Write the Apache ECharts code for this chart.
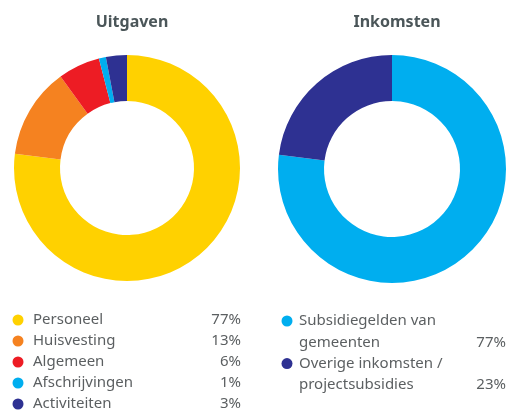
<!DOCTYPE html>
<html>
<head>
<meta charset="utf-8">
<script src="https://cdn.jsdelivr.net/npm/echarts@6/dist/echarts.min.js"></script>
<style>
  html, body { margin: 0; padding: 0; background: #fff; }
  #chart { width: 509px; height: 412px; }
</style>
</head>
<body>
<div id="chart"></div>
<script>
// uitgaven (expenses)
const expenseNames = ["Personeel", "Huisvesting", "Algemeen", "Afschrijvingen", "Activiteiten"];
const expenseValues = [77, 13, 6, 1, 3];
const expenseColors = ["#FFD100", "#F58220", "#ED1C24", "#00AEEF", "#2E3192"];

// inkomsten (income)
const incomeNames = ["Subsidiegelden van gemeenten", "Overige inkomsten / projectsubsidies"];
const incomeLabels = [["Subsidiegelden van", "gemeenten"], ["Overige inkomsten /", "projectsubsidies"]];
const incomeValues = [77, 23];
const incomeColors = ["#00AEEF", "#2E3192"];

const textColor = "#5b5f61";
const fontFamily = "'Noto Sans', sans-serif";

const chart = echarts.init(document.getElementById("chart"));

// legend drawn as graphic elements
function legendBlock(x0, textX, rightX, y0, rowH, items) {
  const els = [];
  let y = y0;
  items.forEach((it) => {
    els.push({
      type: "circle",
      shape: { cx: x0, cy: y, r: 5.5 },
      style: { fill: it.color },
    });
    it.lines.forEach((line, i) => {
      els.push({
        type: "text",
        x: textX,
        y: y + i * rowH,
        style: {
          text: line,
          fill: textColor,
          font: "15px " + fontFamily,
          textVerticalAlign: "middle",
        },
      });
    });
    const lastY = y + (it.lines.length - 1) * rowH;
    els.push({
      type: "text",
      x: rightX,
      y: lastY,
      style: {
        text: it.value + "%",
        fill: textColor,
        font: "15px " + fontFamily,
        textAlign: "right",
        textVerticalAlign: "middle",
      },
    });
    y += it.lines.length * rowH;
  });
  return els;
}

const leftItems = expenseNames.map((n, i) => ({ lines: [n], value: expenseValues[i], color: expenseColors[i] }));
const rightItems = incomeNames.map((n, i) => ({ lines: incomeLabels[i], value: incomeValues[i], color: incomeColors[i] }));

chart.setOption({
  animation: false,
  title: [
    {
      text: "Uitgaven",
      left: 127,
      top: 9,
      textAlign: "center",
      textStyle: { fontFamily: fontFamily, fontSize: 16, fontWeight: "bold", color: "#4b5659" },
    },
    {
      text: "Inkomsten",
      left: 392,
      top: 9,
      textAlign: "center",
      textStyle: { fontFamily: fontFamily, fontSize: 16, fontWeight: "bold", color: "#4b5659" },
    },
  ],
  series: [
    {
      type: "pie",
      center: [127, 168],
      radius: [67, 113],
      startAngle: 90,
      label: { show: false },
      labelLine: { show: false },
      silent: true,
      data: expenseNames.map((n, i) => ({ name: n, value: expenseValues[i], itemStyle: { color: expenseColors[i] } })),
    },
    {
      type: "pie",
      center: [392, 169],
      radius: [68, 114],
      startAngle: 90,
      label: { show: false },
      labelLine: { show: false },
      silent: true,
      data: incomeNames.map((n, i) => ({ name: n, value: incomeValues[i], itemStyle: { color: incomeColors[i] } })),
    },
  ],
  graphic: legendBlock(18, 33, 241, 320, 21, leftItems).concat(legendBlock(287, 299, 506, 321, 21.3, rightItems)),
});
</script>
</body>
</html>
